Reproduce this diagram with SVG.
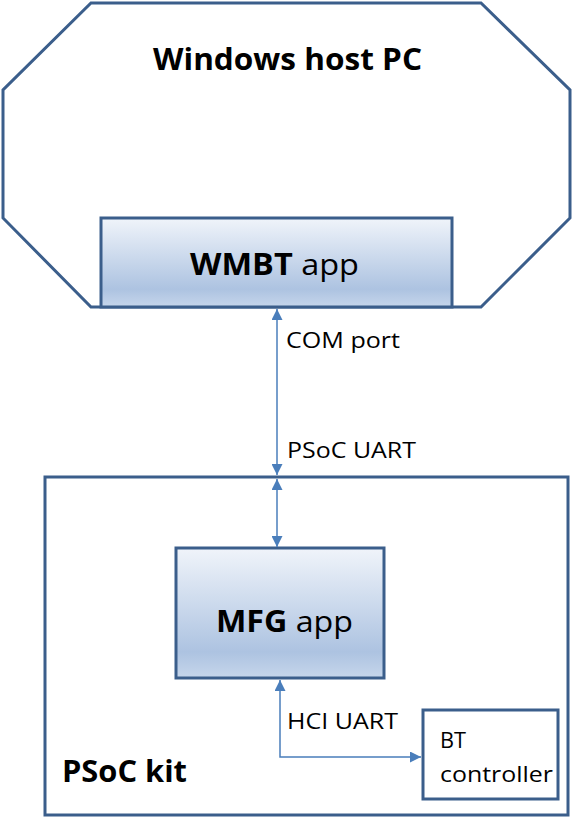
<svg xmlns="http://www.w3.org/2000/svg" width="573" height="817" viewBox="0 0 573 817">
<style>
.frame{fill:#ffffff;stroke:#3b5e8b;stroke-width:3}
.app{fill:url(#appGrad);stroke:#3b5e8b;stroke-width:3}
.conn{fill:none;stroke:#4a7ebb;stroke-width:1.5}
.big{font-family:"Open Sans","Liberation Sans",sans-serif;font-size:29.5px;fill:#000}
.small{font-family:"Open Sans","Liberation Sans",sans-serif;font-size:22px;fill:#000}
.b{font-weight:bold}
</style>
<defs>
<linearGradient id="appGrad" x1="0" y1="0" x2="0" y2="1">
<stop offset="0" stop-color="#f0f4fa"/>
<stop offset="0.8" stop-color="#adc3e1"/>
<stop offset="1" stop-color="#c6d6eb"/>
</linearGradient>
<marker id="arr" viewBox="0 0 10 10" refX="10" refY="5" markerWidth="11" markerHeight="11" markerUnits="userSpaceOnUse" orient="auto-start-reverse">
<path d="M0,0 L10,5 L0,10 z" fill="#4a7ebb"/>
</marker>
</defs>
<g id="host-pc">
<polygon class="frame" points="91,3 481,3 570,90 570,218 481,307 91,307 3,218 3,90"/>
<text class="big b" x="153" y="70" textLength="269" lengthAdjust="spacingAndGlyphs">Windows host PC</text>
</g>
<g id="wmbt-app">
<rect class="app" x="101" y="218" width="351" height="89"/>
<text class="big" x="190" y="275" textLength="169" lengthAdjust="spacingAndGlyphs"><tspan class="b">WMBT</tspan> app</text>
</g>
<g id="psoc-kit">
<rect class="frame" x="45" y="477" width="523" height="338"/>
<text class="big b" x="62" y="782" textLength="125" lengthAdjust="spacingAndGlyphs">PSoC kit</text>
</g>
<g id="mfg-app">
<rect class="app" x="176" y="548" width="208" height="130"/>
<text class="big" x="216" y="632" textLength="137" lengthAdjust="spacingAndGlyphs"><tspan class="b">MFG</tspan> app</text>
</g>
<g id="bt-controller">
<rect class="frame" x="423" y="710" width="135" height="89"/>
<text class="small" x="440" y="748" textLength="26" lengthAdjust="spacingAndGlyphs">BT</text>
<text class="small" x="440" y="782" textLength="113" lengthAdjust="spacingAndGlyphs">controller</text>
</g>
<g id="connectors">
<line class="conn" x1="277" y1="309" x2="277" y2="475" marker-start="url(#arr)" marker-end="url(#arr)"/>
<line class="conn" x1="277" y1="479" x2="277" y2="547" marker-start="url(#arr)" marker-end="url(#arr)"/>
<path class="conn" d="M280,680 L280,757 L421,757" marker-start="url(#arr)" marker-end="url(#arr)"/>
<text class="small" x="286" y="348" textLength="114" lengthAdjust="spacingAndGlyphs">COM port</text>
<text class="small" x="287" y="458" textLength="129" lengthAdjust="spacingAndGlyphs">PSoC UART</text>
<text class="small" x="287" y="729" textLength="111" lengthAdjust="spacingAndGlyphs">HCI UART</text>
</g>
</svg>
